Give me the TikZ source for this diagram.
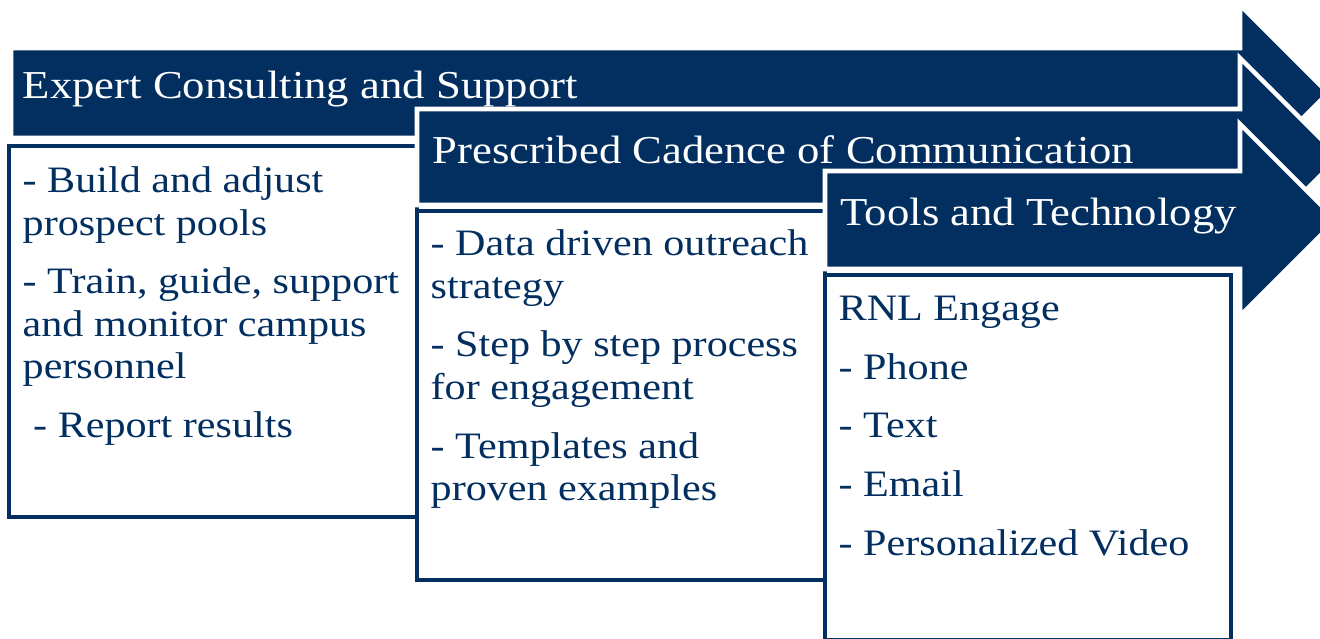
\documentclass[tikz,border=0pt]{standalone}
\usepackage{fontspec}
\setmainfont[FakeStretch=1.13]{Liberation Serif}
\usetikzlibrary{positioning}
\definecolor{navy}{HTML}{022F5F}

\begin{document}
\begin{tikzpicture}[
  x=0.01cm, y=-0.01cm,
  banner/.style={fill=navy, draw=white, line width=1.3pt, line join=miter},
  panel/.style={draw=navy, fill=white, line width=1.2pt},
  head/.style={anchor=base west, inner sep=0pt, text=white, font=\fontsize{11.25}{13.5}\selectfont},
  body/.style={anchor=north west, inner sep=0pt, text=navy, align=left, font=\fontsize{10.6}{12.1}\selectfont}
]
  \useasboundingbox (0,0) rectangle (1320,639);
  \clip (0,0) rectangle (1320,639);

  % stage 1
  \filldraw[banner] (11,48) -- (1240,48) -- (1240,5) -- (1328,93) -- (1240,181) -- (1240,138) -- (11,138) -- cycle;
  \draw[panel] (9,146) rectangle (417,517);
  \node[head] (consult) at (22,98) {Expert Consulting and Support};

  % stage 2
  \filldraw[banner] (417,109) -- (1240,109) -- (1240,58) -- (1339,157) -- (1240,256) -- (1240,205) -- (417,205) -- cycle;
  \draw[panel] (417,211) rectangle (825,580);
  \node[head] (cadence) at (432,163) {Prescribed Cadence of Communication};

  % stage 3
  \filldraw[banner] (825,171) -- (1240,171) -- (1240,124) -- (1336,220) -- (1240,316) -- (1240,269) -- (825,269) -- cycle;
  \draw[panel] (825,275) rectangle (1231,640);
  \node[head] (tools) at (840,225) {Tools and Technology};

  % panel texts (\strut fixes the first baseline 30 units below the anchor)
  \node[body] (consultlist) at (22,162) {\strut- Build and adjust\\prospect pools\\[4.6pt]
    - Train, guide, support\\and monitor campus\\personnel\\[4.6pt]
    \ - Report results};
  \node[body] (cadencelist) at (430,225) {\strut- Data driven outreach\\strategy\\[4.6pt]
    - Step by step process\\for engagement\\[4.6pt]
    - Templates and\\proven examples};
  \node[body] (toolslist) at (838,290) {\strut RNL Engage\\[4.6pt]
    - Phone\\[4.6pt]
    - Text\\[4.6pt]
    - Email\\[4.6pt]
    - Personalized Video};
\end{tikzpicture}
\end{document}
